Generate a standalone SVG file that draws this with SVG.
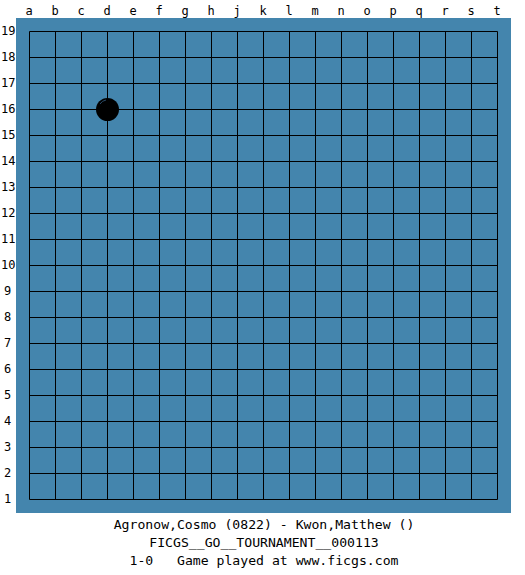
<svg xmlns="http://www.w3.org/2000/svg" width="525" height="575" viewBox="0 0 525 575">
<style>
.lbl{font-family:"DejaVu Sans Mono","Liberation Mono",monospace;font-size:12px;fill:#000}
.cl{text-anchor:middle}
.ft{font-family:"DejaVu Sans Mono","Liberation Mono",monospace;font-size:13.15px;fill:#000;text-anchor:middle}
.g{stroke:#000;stroke-width:1;fill:none}
</style>
<rect width="525" height="575" fill="#fff"/>
<g id="board">
<rect x="16" y="18" width="495" height="495" fill="#4485ad"/>
</g>
<g id="grid" class="g">
<path d="M29.5 31.5V499.5M55.5 31.5V499.5M81.5 31.5V499.5M107.5 31.5V499.5M133.5 31.5V499.5M159.5 31.5V499.5M185.5 31.5V499.5M211.5 31.5V499.5M237.5 31.5V499.5M263.5 31.5V499.5M289.5 31.5V499.5M315.5 31.5V499.5M341.5 31.5V499.5M367.5 31.5V499.5M393.5 31.5V499.5M419.5 31.5V499.5M445.5 31.5V499.5M471.5 31.5V499.5M497.5 31.5V499.5"/>
<path d="M29.5 31.5H497.5M29.5 57.5H497.5M29.5 83.5H497.5M29.5 109.5H497.5M29.5 135.5H497.5M29.5 161.5H497.5M29.5 187.5H497.5M29.5 213.5H497.5M29.5 239.5H497.5M29.5 265.5H497.5M29.5 291.5H497.5M29.5 317.5H497.5M29.5 343.5H497.5M29.5 369.5H497.5M29.5 395.5H497.5M29.5 421.5H497.5M29.5 447.5H497.5M29.5 473.5H497.5M29.5 499.5H497.5"/>
</g>
<g id="stone-d16">
<circle cx="107.5" cy="109.5" r="11.5" fill="#000"/>
<path d="M100 104 A9 9 0 0 1 106 100" stroke="#2a4a66" stroke-width="1" fill="none"/>
</g>
<g id="col-labels" class="lbl cl">
<text x="29" y="15">a</text><text x="55" y="15">b</text><text x="81" y="15">c</text><text x="107" y="15">d</text><text x="133" y="15">e</text><text x="159" y="15">f</text><text x="185" y="15">g</text><text x="211" y="15">h</text><text x="237" y="15">j</text><text x="263" y="15">k</text><text x="289" y="15">l</text><text x="315" y="15">m</text><text x="341" y="15">n</text><text x="367" y="15">o</text><text x="393" y="15">p</text><text x="419" y="15">q</text><text x="445" y="15">r</text><text x="471" y="15">s</text><text x="497" y="15">t</text>
</g>
<g id="row-labels" class="lbl">
<text x="1" y="35">19</text><text x="1" y="61">18</text><text x="1" y="87">17</text><text x="1" y="113">16</text><text x="1" y="139">15</text><text x="1" y="165">14</text><text x="1" y="191">13</text><text x="1" y="217">12</text><text x="1" y="243">11</text><text x="1" y="269">10</text><text x="4" y="295">9</text><text x="4" y="321">8</text><text x="4" y="347">7</text><text x="4" y="373">6</text><text x="4" y="399">5</text><text x="4" y="425">4</text><text x="4" y="451">3</text><text x="4" y="477">2</text><text x="4" y="503">1</text>
</g>
<g id="footer" class="ft">
<text x="264" y="529">Agronow,Cosmo (0822) - Kwon,Matthew ()</text>
<text x="264" y="547">FICGS__GO__TOURNAMENT__000113</text>
<text x="264" y="565" xml:space="preserve">1-0   Game played at www.ficgs.com</text>
</g>
</svg>
